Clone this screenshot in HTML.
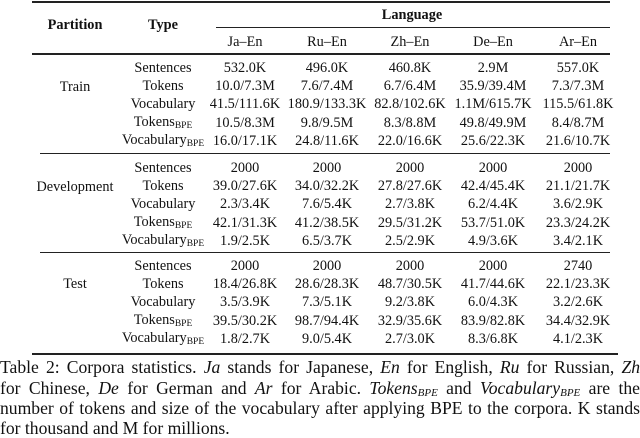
<!DOCTYPE html>
<html><head><meta charset="utf-8"><style>
body{margin:0;width:640px;height:437px;background:#fff;position:relative;overflow:hidden;font-family:"Liberation Serif",serif;color:#111}
.r{position:absolute;background:#222}
.t{position:absolute;font-size:14.3px;white-space:nowrap;transform:translate(-50%,-50%);line-height:1}
.b{font-weight:bold}
sub{font-size:9.5px;vertical-align:-2px}
.c{position:absolute;left:0;width:640px;font-size:17.6px;line-height:1;text-align:justify;text-align-last:justify;white-space:nowrap}
.c.l{text-align-last:left}
.c sub{font-size:11px}
</style></head><body>
<div class="r" style="left:32px;top:1px;width:578px;height:2px"></div>
<div class="r" style="left:216px;top:27px;width:394px;height:1px"></div>
<div class="r" style="left:32px;top:53px;width:578px;height:2px"></div>
<div class="r" style="left:40px;top:153px;width:570px;height:1px"></div>
<div class="r" style="left:40px;top:252px;width:570px;height:1px"></div>
<div class="r" style="left:32px;top:353px;width:586px;height:2px"></div>
<div class="t b" style="left:75px;top:25px">Partition</div>
<div class="t b" style="left:163px;top:25px">Type</div>
<div class="t b" style="left:412px;top:15px">Language</div>
<div class="t" style="left:245px;top:42px">Ja–En</div>
<div class="t" style="left:327px;top:42px">Ru–En</div>
<div class="t" style="left:410px;top:42px">Zh–En</div>
<div class="t" style="left:493px;top:42px">De–En</div>
<div class="t" style="left:578px;top:42px">Ar–En</div>
<div class="t" style="left:75px;top:87px">Train</div>
<div class="t" style="left:75px;top:187px">Development</div>
<div class="t" style="left:75px;top:284px">Test</div>
<div id="rows"></div>
<script>
var types=["Sentences","Tokens","Vocabulary","Tokens<sub>BPE</sub>","Vocabulary<sub>BPE</sub>"];
var d=[
["532.0K","496.0K","460.8K","2.9M","557.0K"],
["10.0/7.3M","7.6/7.4M","6.7/6.4M","35.9/39.4M","7.3/7.3M"],
["41.5/111.6K","180.9/133.3K","82.8/102.6K","1.1M/615.7K","115.5/61.8K"],
["10.5/8.3M","9.8/9.5M","8.3/8.8M","49.8/49.9M","8.4/8.7M"],
["16.0/17.1K","24.8/11.6K","22.0/16.6K","25.6/22.3K","21.6/10.7K"],
["2000","2000","2000","2000","2000"],
["39.0/27.6K","34.0/32.2K","27.8/27.6K","42.4/45.4K","21.1/21.7K"],
["2.3/3.4K","7.6/5.4K","2.7/3.8K","6.2/4.4K","3.6/2.9K"],
["42.1/31.3K","41.2/38.5K","29.5/31.2K","53.7/51.0K","23.3/24.2K"],
["1.9/2.5K","6.5/3.7K","2.5/2.9K","4.9/3.6K","3.4/2.1K"],
["2000","2000","2000","2000","2740"],
["18.4/26.8K","28.6/28.3K","48.7/30.5K","41.7/44.6K","22.1/23.3K"],
["3.5/3.9K","7.3/5.1K","9.2/3.8K","6.0/4.3K","3.2/2.6K"],
["39.5/30.2K","98.7/94.4K","32.9/35.6K","83.9/82.8K","34.4/32.9K"],
["1.8/2.7K","9.0/5.4K","2.7/3.0K","8.3/6.8K","4.1/2.3K"]];
var xs=[245,327,410,493,578],h="";
for(var i=0;i<15;i++){var s=Math.floor(i/5),y=[68,168,266][s]+(i%5)*18.2;
h+='<div class="t" style="left:163px;top:'+y+'px">'+types[i%5]+'</div>';
for(var j=0;j<5;j++)h+='<div class="t" style="left:'+xs[j]+'px;top:'+y+'px">'+d[i][j]+'</div>';}
document.getElementById("rows").innerHTML=h;
</script>
<div class="c" style="top:359px">Table 2: Corpora statistics. <i>Ja</i> stands for Japanese, <i>En</i> for English, <i>Ru</i> for Russian, <i>Zh</i></div>
<div class="c" style="top:380px">for Chinese, <i>De</i> for German and <i>Ar</i> for Arabic. <i>Tokens<sub>BPE</sub></i> and <i>Vocabulary<sub>BPE</sub></i> are the</div>
<div class="c" style="top:400px">number of tokens and size of the vocabulary after applying BPE to the corpora. K stands</div>
<div class="c l" style="top:420px">for thousand and M for millions.</div>
</body></html>
